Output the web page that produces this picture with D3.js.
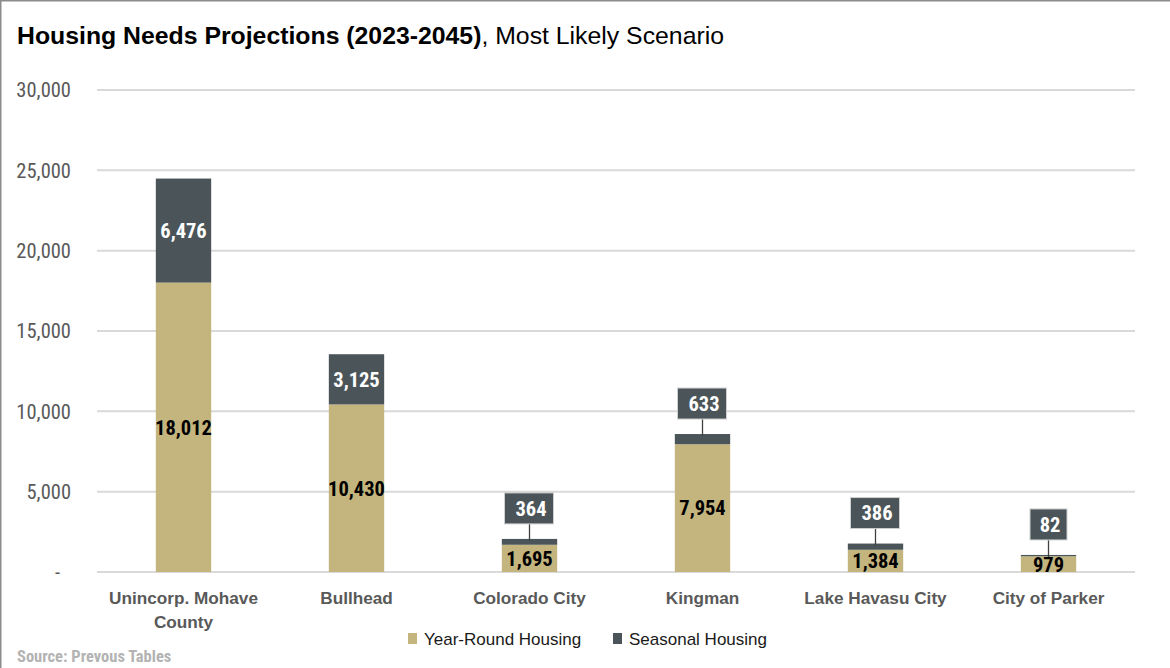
<!DOCTYPE html>
<html>
<head>
<meta charset="utf-8">
<script src="https://cdn.jsdelivr.net/npm/d3@7"></script>
<style>
  body { margin: 0; background: #fff; }
  svg { display: block; }
</style>
</head>
<body>
<div id="chart"></div>
<script>
// data
var places = ["Unincorp. Mohave County", "Bullhead", "Colorado City", "Kingman", "Lake Havasu City", "City of Parker"];
var yearRound = [18012, 10430, 1695, 7954, 1384, 979];
var seasonal = [6476, 3125, 364, 633, 386, 82];
var yTicks = [0, 5000, 10000, 15000, 20000, 25000, 30000];
var seriesNames = ["Year-Round Housing", "Seasonal Housing"];

var width = 1170;
var height = 668;
var colors = { year: "#c4b47e", seasonal: "#4b5559" };
var wideFont = "'Liberation Sans', Arial, sans-serif";
var narrowFont = "'Roboto Condensed', 'Liberation Sans', sans-serif";

var plotLeft = 97, plotRight = 1135, plotTop = 90, plotBottom = 572;

var svg = d3.select("#chart").append("svg")
    .attr("width", width)
    .attr("height", height);

// frame lines top and left
svg.append("line").attr("x1", 0).attr("x2", width).attr("y1", 0.5).attr("y2", 0.5)
    .style("stroke", "#8c8c8c").style("stroke-width", 2);
svg.append("line").attr("x1", 0.5).attr("x2", 0.5).attr("y1", 0).attr("y2", height)
    .style("stroke", "#8c8c8c").style("stroke-width", 2);

// title
var title = svg.append("text")
    .attr("x", 17)
    .attr("y", 43.5)
    .style("font-family", wideFont)
    .style("font-size", "24.8px")
    .style("fill", "#000");
title.append("tspan").style("font-weight", "bold").text("Housing Needs Projections (2023-2045)");
title.append("tspan").text(", Most Likely Scenario");

var x = d3.scaleBand()
    .domain(places)
    .range([plotLeft, plotRight])
    .paddingInner(0.68)
    .paddingOuter(0.34);

var y = d3.scaleLinear()
    .domain([0, 30000])
    .range([plotBottom, plotTop]);

// gridlines
svg.append("g")
    .selectAll("line")
    .data(yTicks)
    .enter()
    .append("line")
    .attr("x1", plotLeft)
    .attr("x2", plotRight)
    .attr("y1", d => y(d))
    .attr("y2", d => y(d))
    .style("stroke", "#d9d9d9")
    .style("stroke-width", 2);

// y axis labels
var leftAxis = d3.axisLeft(y)
    .tickValues(yTicks)
    .tickSize(0)
    .tickPadding(0)
    .tickFormat(d => d === 0 ? "-" : d3.format(",")(d));

var yAxisG = svg.append("g")
    .attr("transform", "translate(71,0)")
    .call(leftAxis);
yAxisG.select(".domain").remove();
yAxisG.selectAll("text")
    .attr("dy", "0.34em")
    .style("font-size", "20.5px")
    .style("font-family", narrowFont)
    .style("fill", "#595959");
yAxisG.selectAll(".tick").filter(d => d === 0).select("text")
    .attr("dx", "-11");

// stacked bars
var rows = places.map((p, i) => ({ place: p, year: yearRound[i], seasonal: seasonal[i] }));

svg.selectAll(".bar-year")
    .data(rows)
    .enter()
    .append("rect")
    .attr("class", "bar-year")
    .attr("x", d => x(d.place))
    .attr("width", x.bandwidth())
    .attr("y", d => y(d.year))
    .attr("height", d => y(0) - y(d.year))
    .style("fill", colors.year);

svg.selectAll(".bar-seasonal")
    .data(rows)
    .enter()
    .append("rect")
    .attr("class", "bar-seasonal")
    .attr("x", d => x(d.place))
    .attr("width", x.bandwidth())
    .attr("y", d => y(d.year + d.seasonal))
    .attr("height", d => y(d.year) - y(d.year + d.seasonal))
    .style("fill", colors.seasonal);

// year-round labels centred in the segment
svg.selectAll(".lab-year")
    .data(rows)
    .enter()
    .append("text")
    .attr("x", d => x(d.place) + x.bandwidth() / 2)
    .attr("y", d => y(d.year / 2))
    .attr("dy", "0.36em")
    .attr("text-anchor", "middle")
    .style("font-family", narrowFont)
    .style("font-size", "20.5px")
    .style("font-weight", "bold")
    .style("fill", "#000")
    .text(d => d3.format(",")(d.year));

// seasonal labels: inside when the segment is tall, else in a callout box
var inside = rows.filter(d => d.seasonal >= 1500);
var callout = rows.filter(d => d.seasonal < 1500);

svg.selectAll(".lab-seas")
    .data(inside)
    .enter()
    .append("text")
    .attr("x", d => x(d.place) + x.bandwidth() / 2)
    .attr("y", d => y(d.year + d.seasonal / 2))
    .attr("dy", "0.36em")
    .attr("text-anchor", "middle")
    .style("font-family", narrowFont)
    .style("font-size", "20.5px")
    .style("font-weight", "bold")
    .style("fill", "#fff")
    .text(d => d3.format(",")(d.seasonal));

var boxH = 31;
var boxGap = 15;
var cg = svg.selectAll(".callout")
    .data(callout)
    .enter()
    .append("g")
    .attr("class", "callout");

cg.append("line")
    .attr("x1", d => x(d.place) + x.bandwidth() / 2)
    .attr("x2", d => x(d.place) + x.bandwidth() / 2)
    .attr("y1", d => y(d.year + d.seasonal) - boxGap)
    .attr("y2", d => y(d.year + d.seasonal) + 2)
    .style("stroke", "#404040")
    .style("stroke-width", 1.3);

cg.append("rect")
    .attr("x", d => x(d.place) + x.bandwidth() / 2 - (String(d.seasonal).length > 2 ? 25 : 18.5))
    .attr("width", d => String(d.seasonal).length > 2 ? 49 : 37)
    .attr("y", d => y(d.year + d.seasonal) - boxGap - boxH)
    .attr("height", boxH)
    .style("fill", colors.seasonal)
    .style("stroke", "#d0d0d0")
    .style("stroke-width", 1);

cg.append("text")
    .attr("x", d => x(d.place) + x.bandwidth() / 2 + 1.5)
    .attr("y", d => y(d.year + d.seasonal) - boxGap - boxH / 2)
    .attr("dy", "0.36em")
    .attr("text-anchor", "middle")
    .style("font-family", narrowFont)
    .style("font-size", "20.5px")
    .style("font-weight", "bold")
    .style("fill", "#fff")
    .text(d => d3.format(",")(d.seasonal));

// x axis labels (bold grey, wrapped)
var bottomAxis = d3.axisBottom(x).tickSize(0).tickPadding(0);
var xAxisG = svg.append("g")
    .attr("transform", "translate(0,603.5)")
    .call(bottomAxis);
xAxisG.select(".domain").remove();
xAxisG.selectAll("text")
    .style("font-size", "17.2px")
    .style("font-weight", "bold")
    .style("font-family", wideFont)
    .style("fill", "#595959")
    .attr("y", 0)
    .attr("dy", 0)
    .each(function(d) {
        var t = d3.select(this);
        if (d === "Unincorp. Mohave County") {
            t.text(null);
            t.append("tspan").attr("x", 0).attr("dy", 0).text("Unincorp. Mohave");
            t.append("tspan").attr("x", 0).attr("dy", 24).text("County");
        }
    });

// legend
var legend = svg.append("g").attr("transform", "translate(408,638.5)");
var legendX = [0, 205];
var legendColors = [colors.year, colors.seasonal];
seriesNames.forEach(function(name, i) {
    legend.append("rect")
        .attr("x", legendX[i])
        .attr("y", -5.5)
        .attr("width", 9)
        .attr("height", 11)
        .style("fill", legendColors[i]);
    legend.append("text")
        .attr("x", legendX[i] + 16)
        .attr("y", 0)
        .attr("dy", "0.36em")
        .style("font-family", wideFont)
        .style("font-size", "17px")
        .style("fill", "#1a1a1a")
        .text(name);
});

// source note
svg.append("text")
    .attr("x", 17)
    .attr("y", 662)
    .style("font-family", narrowFont)
    .style("font-size", "16.5px")
    .style("font-weight", "bold")
    .style("fill", "#b3b3b3")
    .text("Source: Prevous Tables");
</script>
</body>
</html>
